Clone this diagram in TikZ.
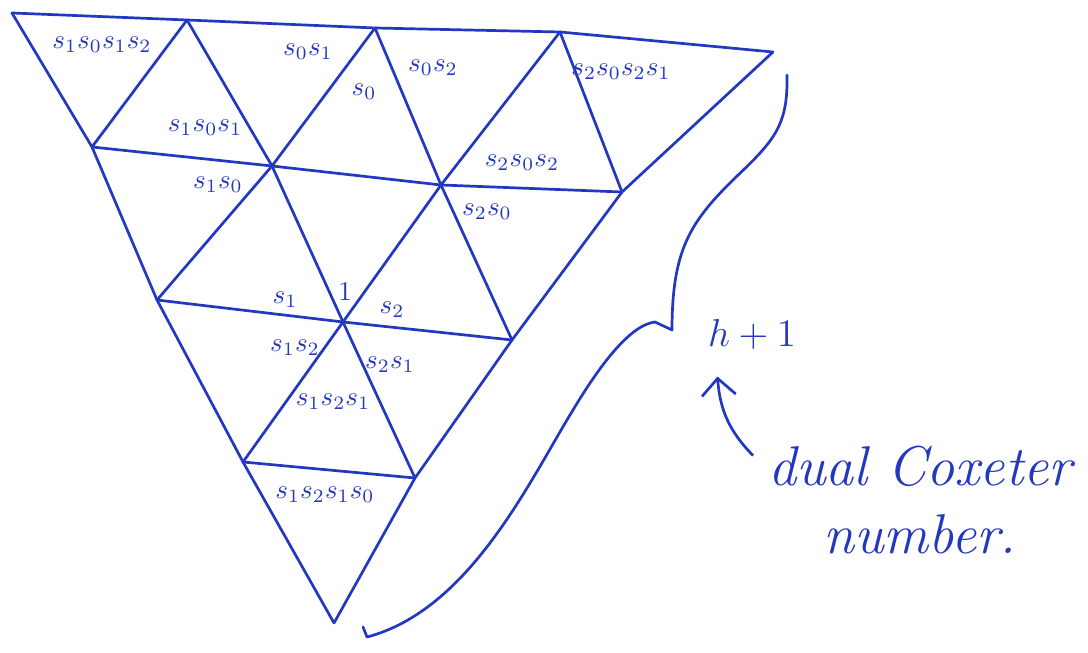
\documentclass[tikz,border=0pt]{standalone}
\usepackage{amsmath}
\usepackage{xcolor}
\definecolor{cInk}{HTML}{2338C0}
\usepackage{tikz}
\usetikzlibrary{arrows.meta}

\begin{document}
\begin{tikzpicture}[
    x=0.013cm, y=-0.013cm,
    seg/.style  = {draw=cInk, line width=1pt, line cap=round, line join=round},
    lbl/.style  = {text=cInk, inner sep=1pt, font=\normalsize},
    note/.style = {text=cInk, inner sep=2pt, align=center},
    arr/.style  = {-{Straight Barb[length=2.2mm]}, line width=1pt, color=cInk}
]
\useasboundingbox (0,0) rectangle (1088,653);

% --- Vrcholy triangulace: rady a..e (shora dolu) -------------------------
\coordinate (a0) at (12,13);
\coordinate (a1) at (187,20);
\coordinate (a2) at (375,28);
\coordinate (a3) at (560,32);
\coordinate (a4) at (773,52);
\coordinate (b0) at (92,147);
\coordinate (b1) at (272,166);
\coordinate (b2) at (441,185);
\coordinate (b3) at (622,192);
\coordinate (c0) at (157,300);
\coordinate (c1) at (343,322);
\coordinate (c2) at (512,340);
\coordinate (d0) at (243,462);
\coordinate (d1) at (415,478);
\coordinate (e0) at (334,623);

% --- Vodorovne hrany -----------------------------------------------------
\draw[seg] (a0) -- (a1) -- (a2) -- (a3) -- (a4);
\draw[seg] (b0) -- (b1) -- (b2) -- (b3);
\draw[seg] (c0) -- (c1) -- (c2);
\draw[seg] (d0) -- (d1);

% --- Vnejsi sikme hrany --------------------------------------------------
\draw[seg] (a0) -- (b0) -- (c0) -- (d0) -- (e0);
\draw[seg] (a4) -- (b3) -- (c2) -- (d1) -- (e0);

% --- Vnitrni sikme hrany -------------------------------------------------
\draw[seg] (a1) -- (b0);
\draw[seg] (a1) -- (b1) -- (c0);
\draw[seg] (a2) -- (b1) -- (c1) -- (d0);
\draw[seg] (a2) -- (b2) -- (c1) -- (d1);
\draw[seg] (a3) -- (b2) -- (c2);
\draw[seg] (a3) -- (b3);

% --- Popisky trojuhelniku ------------------------------------------------
\node[lbl] (t1)  at (102,45)  {$s_1s_0s_1s_2$};
\node[lbl] (t2)  at (308,52)  {$s_0s_1$};
\node[lbl] (t3)  at (364,92)  {$s_0$};
\node[lbl] (t4)  at (433,68)  {$s_0s_2$};
\node[lbl] (t5)  at (621,72)  {$s_2s_0s_2s_1$};
\node[lbl] (t6)  at (205,128) {$s_1s_0s_1$};
\node[lbl] (t7)  at (522,163) {$s_2s_0s_2$};
\node[lbl] (t8)  at (218,185) {$s_1s_0$};
\node[lbl] (t9)  at (487,212) {$s_2s_0$};
\node[lbl] (t10) at (285,300) {$s_1$};
\node[lbl] (t11) at (345,292) {$1$};
\node[lbl] (t12) at (392,310) {$s_2$};
\node[lbl] (t13) at (295,348) {$s_1s_2$};
\node[lbl] (t14) at (390,365) {$s_2s_1$};
\node[lbl] (t15) at (333,402) {$s_1s_2s_1$};
\node[lbl] (t16) at (325,495) {$s_1s_2s_1s_0$};

% --- Slozena zavorka podel prave strany ----------------------------------
\draw[seg] (787,75) .. controls (788,125) and (775,140) .. (735,178)
  .. controls (690,222) and (672,250) .. (672,330)
  -- (655,322) .. controls (630,325) and (600,365) .. (573,410)
  .. controls (530,480) and (470,610) .. (367,637) -- (363,627);

% --- Poznamka vpravo -----------------------------------------------------
\node[note, font=\Large] (hp) at (752,334) {$h+1$};
\node[note, font=\huge\itshape] (txt) at (920,500) {dual Coxeter\\number.};
\draw[arr] ([xshift=-0.12cm, yshift=-0.2cm]txt.north west)
  to[bend left=20] ([xshift=0.2cm, yshift=-0.28cm]hp.south west);
\end{tikzpicture}
\end{document}
